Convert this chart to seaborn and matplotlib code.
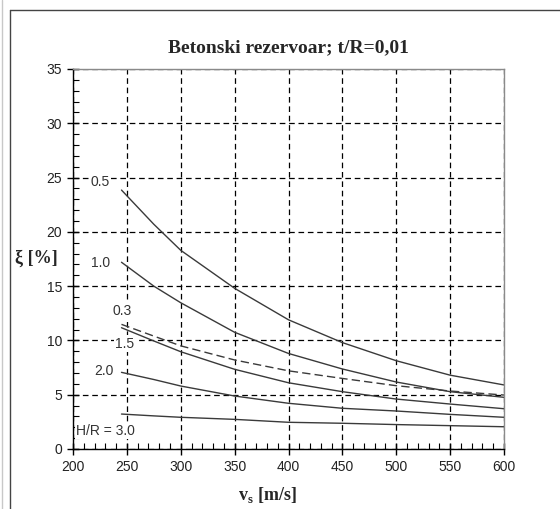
import matplotlib
matplotlib.use("Agg")
import matplotlib.pyplot as plt
from matplotlib.ticker import MultipleLocator
from matplotlib.lines import Line2D
import numpy as np
import pandas as pd
import seaborn as sns

# values
vs = [245, 275, 300, 350, 400, 450, 500, 550, 600]
hr_labels = ["0.5", "1.0", "0.3", "1.5", "2.0", "3.0"]
xi_05 = [23.85, 20.7, 18.3, 14.8, 11.9, 9.8, 8.13, 6.8, 5.9]
xi_10 = [17.2, 15.0, 13.47, 10.75, 8.8, 7.37, 6.17, 5.28, 4.76]
xi_03 = [11.48, 10.4, 9.5, 8.2, 7.2, 6.5, 5.83, 5.34, 4.97]
xi_15 = [11.17, 9.95, 8.96, 7.34, 6.1, 5.28, 4.6, 4.14, 3.71]
xi_20 = [7.06, 6.4, 5.8, 4.88, 4.21, 3.75, 3.5, 3.19, 2.92]
xi_30 = [3.22, 3.05, 2.92, 2.73, 2.46, 2.37, 2.25, 2.15, 2.05]
series = [xi_05, xi_10, xi_03, xi_15, xi_20, xi_30]

# curve labels: text and where they sit (data coords)
label_text = ["0.5", "1.0", "0.3", "1.5", "2.0", "H/R = 3.0"]
label_x = [225, 226, 246, 248, 229, 203]
label_y = [24.6, 17.1, 12.7, 9.7, 7.2, 1.66]

rows = []
for name, vals in zip(hr_labels, series):
    for x, y in zip(vs, vals):
        rows.append({"vs": x, "xi": y, "HR": name, "kind": "dash" if name == "0.3" else "solid"})
df = pd.DataFrame(rows)

sns.set_style("white")
plt.rcParams["font.family"] = ["Liberation Sans", "DejaVu Sans"]
plt.rcParams["mathtext.fontset"] = "custom"
plt.rcParams["mathtext.bf"] = "Liberation Serif:bold"
plt.rcParams["mathtext.rm"] = "Liberation Serif"

fig = plt.figure(figsize=(5.6, 5.09), dpi=100)
ax = fig.add_axes([73 / 560, 1 - 449 / 509, 431 / 560, 380 / 509])

sns.lineplot(data=df, x="vs", y="xi", units="HR", style="kind", estimator=None,
             dashes={"solid": "", "dash": (6, 3)}, color="#3a3a3a", linewidth=1.0,
             legend=False, ax=ax)

ax.set_xlim(200, 600)
ax.set_ylim(0, 35)
ax.xaxis.set_major_locator(MultipleLocator(50))
ax.xaxis.set_minor_locator(MultipleLocator(10))
ax.yaxis.set_major_locator(MultipleLocator(5))
ax.yaxis.set_minor_locator(MultipleLocator(1))
ax.tick_params(which="major", direction="inout", length=8, width=1, color="black",
               labelsize=10, labelcolor="#222222", pad=4, bottom=True, left=True)
ax.tick_params(which="minor", direction="in", length=4, width=0.8, color="black",
               bottom=True, left=True)
ax.grid(True, which="major", color="black", linestyle=(0, (4.5, 3)), linewidth=0.9)
ax.set_axisbelow(True)

for side in ["left", "bottom"]:
    ax.spines[side].set_color("black")
    ax.spines[side].set_linewidth(1)
for side in ["top", "right"]:
    ax.spines[side].set_color("#8a8a8a")
    ax.spines[side].set_linewidth(1)

for t, x, y in zip(label_text, label_x, label_y):
    ax.text(x, y, t, fontsize=10, color="#333333", ha="left" if t.startswith("H") else "center",
            va="center", zorder=5,
            bbox=dict(facecolor="white", edgecolor="none", pad=1))

ax.set_title("Betonski rezervoar; t/R=0,01", family="Liberation Serif", fontweight="bold",
             fontsize=14, pad=12)
ax.set_xlabel(r"$\mathbf{v}_{\mathbf{s}}$ [m/s]", family="Liberation Serif",
              fontweight="bold", fontsize=13)
ax.xaxis.set_label_coords(0.45, -0.095)
ax.set_ylabel(r"ξ [%]", family="Liberation Serif", fontweight="bold", fontsize=13,
              rotation=0, ha="center", va="center")
ax.yaxis.set_label_coords(-0.084, 0.502)

# page frame around the chart
fig.add_artist(Line2D([10 / 560, 10 / 560], [0, 1 - 10 / 509], transform=fig.transFigure,
                      color="#444444", linewidth=1))
fig.add_artist(Line2D([10 / 560, 1], [1 - 10 / 509, 1 - 10 / 509], transform=fig.transFigure,
                      color="#444444", linewidth=1))
fig.add_artist(Line2D([2 / 560, 2 / 560], [0, 1], transform=fig.transFigure,
                      color="#c8c8c8", linewidth=1))

fig.savefig("out.png", dpi=100)
